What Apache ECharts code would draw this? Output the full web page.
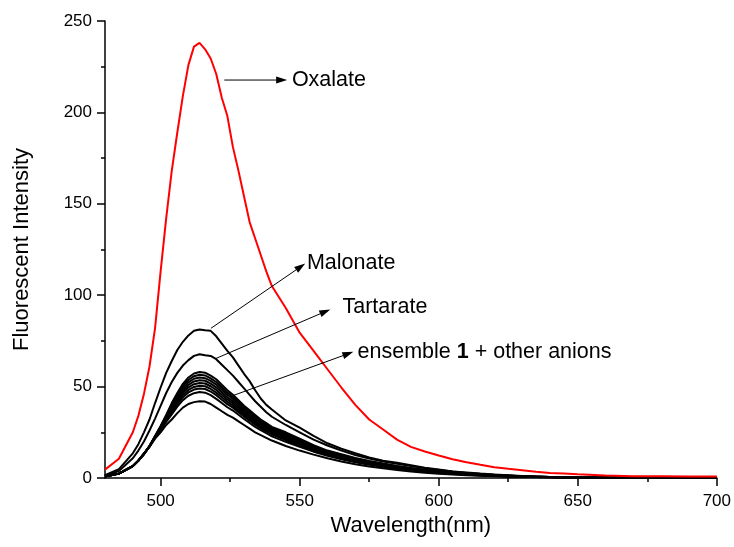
<!DOCTYPE html>
<html>
<head>
<meta charset="utf-8">
<script src="https://cdn.jsdelivr.net/npm/echarts@6/dist/echarts.min.js"></script>
<style>
  html, body { margin: 0; padding: 0; background: #fff; }
  #chart { width: 734px; height: 547px; }
</style>
</head>
<body>
<div id="chart"></div>
<script>
// Emission wavelengths (nm) shared by every spectrum
const wavelength = [480, 485, 490, 492, 494, 496, 498, 500, 502, 504, 506, 508, 510, 512, 514, 516, 518, 520, 522, 524,
  526, 528, 530, 532, 534, 536, 538, 540, 545, 550, 555, 560, 565, 570, 575, 580, 585, 590, 595, 600,
  605, 610, 615, 620, 625, 630, 635, 640, 645, 650, 660, 670, 680, 690, 700];

// Fluorescent intensity, ensemble 1 + oxalate
const oxalate = [4.6, 10.5, 25, 34, 46, 61, 82, 113, 142, 168, 189, 209, 226, 236, 238, 234.5, 229.5, 221, 208, 198,
  181, 168, 154, 140, 131, 122, 113, 105, 93, 79.5, 69.5, 59.5, 49.5, 40, 32, 26.5, 21, 17, 14.5, 12.3,
  10.3, 8.6, 7.2, 5.9, 5, 4.2, 3.4, 2.8, 2.4, 2, 1.4, 1, 0.9, 0.8, 0.8];

// ensemble 1 + malonate
const malonate = [1.5, 4.9, 13.5, 18.5, 25, 32, 41, 49.5, 57.5, 64, 70, 74.5, 78, 80.5, 81.2, 80.8, 80.5, 77.5, 73.5, 69.5,
  66, 61.5, 57, 53, 48, 43.5, 40, 37.5, 31.5, 27.5, 23, 19, 16, 13.5, 11.2, 9.5, 8.3, 7, 5.6, 4.6,
  3.6, 3, 2.4, 1.9, 1.5, 1.1, 0.8, 0.6, 0.5, 0.4, 0.3, 0.2, 0.2, 0.1, 0.1];

// ensemble 1 + tartarate
const tartarate = [1.2, 3.8, 10.8, 15, 20, 26, 32.5, 39.5, 46.5, 52.5, 57.5, 61.5, 64.5, 66.8, 67.7, 67.2, 66.8, 65, 62, 59,
  56, 52.5, 49, 45.5, 42, 39, 36, 33.5, 29, 25, 21, 17.8, 15, 12.6, 10.6, 9, 7.8, 6.6, 5.4, 4.4,
  3.5, 2.8, 2.2, 1.8, 1.4, 1, 0.8, 0.6, 0.5, 0.4, 0.3, 0.2, 0.2, 0.1, 0.1];

// ensemble 1 + the other anions
const otherAnions = [
  [0.8, 2.4, 6.5, 9.5, 13, 17.5, 23, 28.5, 34.5, 41, 46.5, 51.5, 55, 57.2, 58, 57.6, 56, 54, 51, 48,
   45.5, 42.5, 39.5, 37, 34.5, 32, 30, 28, 25, 21.5, 18, 15, 13, 11, 9.3, 7.9, 6.6, 5.5, 4.5, 3.7,
   3, 2.4, 1.9, 1.5, 1.2, 0.9, 0.7, 0.5, 0.4, 0.3, 0.2, 0.2, 0.1, 0.1, 0.1],
  [0.8, 2.4, 6.5, 9.5, 13, 17.5, 22.9, 28.2, 34, 40.2, 45.5, 50.3, 53.6, 55.7, 56.5, 56.1, 54.5, 52.5, 49.6, 46.7,
   44.3, 41.4, 38.5, 36.1, 33.6, 31.2, 29.2, 27.3, 24.3, 20.9, 17.5, 14.6, 12.6, 10.7, 9, 7.7, 6.4, 5.3, 4.4, 3.6,
   2.9, 2.3, 1.8, 1.4, 1.2, 0.9, 0.7, 0.5, 0.4, 0.3, 0.2, 0.2, 0.1, 0.1, 0.1],
  [0.8, 2.4, 6.5, 9.5, 13.1, 17.4, 22.7, 27.8, 33.5, 39.3, 44.4, 49.1, 52.3, 54.3, 55, 54.6, 53.1, 51.1, 48.3, 45.5,
   43.2, 40.3, 37.5, 35.1, 32.7, 30.4, 28.5, 26.6, 23.6, 20.3, 17, 14.2, 12.3, 10.3, 8.7, 7.4, 6.2, 5.1, 4.2, 3.4,
   2.8, 2.2, 1.8, 1.4, 1.1, 0.8, 0.7, 0.5, 0.4, 0.3, 0.2, 0.1, 0.1, 0.1, 0.1],
  [0.8, 2.4, 6.5, 9.5, 13.1, 17.4, 22.6, 27.5, 33, 38.5, 43.4, 47.8, 51, 52.8, 53.5, 53.2, 51.6, 49.6, 46.9, 44.2,
   42, 39.3, 36.5, 34.2, 31.8, 29.6, 27.8, 25.9, 22.9, 19.7, 16.5, 13.8, 11.9, 10, 8.5, 7.2, 6, 5, 4, 3.3,
   2.7, 2.1, 1.7, 1.3, 1.1, 0.8, 0.6, 0.5, 0.4, 0.3, 0.2, 0.1, 0.1, 0.1, 0],
  [0.8, 2.4, 6.5, 9.5, 13.2, 17.3, 22.4, 27.2, 32.4, 37.6, 42.4, 46.6, 49.6, 51.3, 52, 51.7, 50.2, 48.2, 45.6, 43,
   40.8, 38.2, 35.6, 33.3, 30.9, 28.8, 27, 25.2, 22.2, 19.1, 16.1, 13.4, 11.5, 9.7, 8.2, 6.9, 5.8, 4.8, 3.9, 3.2,
   2.6, 2.1, 1.6, 1.3, 1, 0.8, 0.6, 0.5, 0.4, 0.3, 0.2, 0.1, 0.1, 0.1, 0],
  [0.8, 2.4, 6.5, 9.5, 13.2, 17.3, 22.3, 26.9, 31.9, 36.8, 41.3, 45.4, 48.2, 49.8, 50.5, 50.2, 48.7, 46.7, 44.2, 41.7,
   39.6, 37.1, 34.6, 32.3, 30, 28, 26.2, 24.5, 21.5, 18.5, 15.6, 13, 11.1, 9.4, 7.9, 6.7, 5.6, 4.6, 3.7, 3,
   2.5, 2, 1.6, 1.2, 1, 0.8, 0.6, 0.5, 0.3, 0.2, 0.2, 0.1, 0.1, 0.1, 0],
  [0.8, 2.4, 6.5, 9.5, 13.3, 17.2, 22.2, 26.5, 31.4, 35.9, 40.3, 44.2, 46.8, 48.4, 49, 48.7, 47.3, 45.3, 42.8, 40.4,
   38.5, 36, 33.6, 31.4, 29.2, 27.2, 25.5, 23.8, 20.8, 17.8, 15.1, 12.6, 10.8, 9, 7.6, 6.4, 5.4, 4.4, 3.6, 2.9,
   2.4, 1.9, 1.5, 1.2, 0.9, 0.7, 0.6, 0.4, 0.3, 0.2, 0.2, 0.1, 0.1, 0.1, 0],
  [0.8, 2.4, 6.5, 9.5, 13.3, 17.2, 22, 26.1, 30.7, 34.8, 39, 42.6, 45, 46.4, 47, 46.7, 45.3, 43.3, 41, 38.7,
   36.9, 34.6, 32.3, 30.1, 28, 26.2, 24.5, 22.8, 19.8, 17, 14.4, 12.1, 10.3, 8.6, 7.2, 6.1, 5.1, 4.2, 3.4, 2.7,
   2.2, 1.8, 1.4, 1.1, 0.9, 0.7, 0.6, 0.4, 0.3, 0.2, 0.2, 0.1, 0.1, 0.1, 0],
  [0.8, 2.4, 6.5, 9.5, 13.5, 17, 21.5, 25, 29, 32, 35.5, 38.5, 40.5, 41.5, 42, 41.8, 40.5, 38.5, 36.5, 34.5,
   33, 31, 29, 27, 25, 23.5, 22, 20.5, 17.5, 15, 12.8, 10.8, 9, 7.5, 6.3, 5.3, 4.4, 3.6, 2.9, 2.3,
   1.9, 1.5, 1.2, 0.9, 0.7, 0.6, 0.5, 0.4, 0.3, 0.2, 0.2, 0.1, 0.1, 0.1, 0]
];

// Axis tick positions
const xMajorTicks = [500, 550, 600, 650, 700];
const xMinorTicks = [525, 575, 625, 675];
const yTicks = [0, 50, 100, 150, 200, 250];

// Arrow annotations in data space: text, arrow tail, arrow head, text anchor
const notes = [
  { text: 'Oxalate', from: [522.9, 217.7], to: [545.5, 217.7], at: [547.2, 217.7] },
  { text: 'Malonate', from: [518.1, 81.9], to: [552.0, 117.3], at: [552.6, 117.7] },
  { text: 'Tartarate', from: [519.9, 65.4], to: [561.0, 92.2], at: [565.4, 93.6] },
  { text: '{n|ensemble }{b|1}{n| + other anions}', from: [526.4, 45.3], to: [569.3, 69.0], at: [570.8, 69.0] }
];

const FONT = '"Liberation Sans", Arial, Helvetica, sans-serif';
const NOTE_SIZE = 21.5;
const pairs = ys => wavelength.map((x, i) => [x, ys[i]]);

const chart = echarts.init(document.getElementById('chart'), null, { renderer: 'canvas' });

const lineSeries = (name, ys, color) => ({
  name, type: 'line', data: pairs(ys), xAxisIndex: 0, yAxisIndex: 0,
  showSymbol: false, symbol: 'none', smooth: false, clip: true,
  lineStyle: { color, width: 2 }, emphasis: { disabled: true }, silent: true, z: 3
});

const series = [];
otherAnions.forEach((ys, i) => series.push(lineSeries('other ' + (i + 1), ys, '#000000')));
series.push(lineSeries('Tartarate', tartarate, '#000000'));
series.push(lineSeries('Malonate', malonate, '#000000'));
series.push(lineSeries('Oxalate', oxalate, '#ff0000'));

const axisLine = { show: true, onZero: false, lineStyle: { color: '#000', width: 1.5 } };

chart.setOption({
  animation: false,
  backgroundColor: '#ffffff',
  grid: { left: 105, right: 16, top: 21, bottom: 69, containLabel: false },
  xAxis: [
    {
      type: 'value', min: 480, max: 700, position: 'bottom',
      name: 'Wavelength(nm)', nameLocation: 'middle', nameGap: 35,
      nameTextStyle: { fontFamily: FONT, fontSize: 22, color: '#000' },
      axisLine,
      axisTick: { show: true, inside: false, length: 8, customValues: xMajorTicks, lineStyle: { color: '#000', width: 1.5 } },
      axisLabel: { show: true, margin: 15, customValues: xMajorTicks, fontFamily: FONT, fontSize: 17, color: '#000' },
      splitLine: { show: false }
    },
    {
      type: 'value', min: 480, max: 700, position: 'bottom',
      axisLine: { show: false },
      axisTick: { show: true, inside: false, length: 4, customValues: xMinorTicks, lineStyle: { color: '#000', width: 1.5 } },
      axisLabel: { show: false },
      splitLine: { show: false }
    }
  ],
  yAxis: {
    type: 'value', min: 0, max: 250, interval: 50, position: 'left',
    name: 'Fluorescent Intensity', nameLocation: 'middle', nameGap: 72, nameRotate: 90,
    nameTextStyle: { fontFamily: FONT, fontSize: 22, color: '#000' },
    axisLine,
    axisTick: { show: true, inside: false, length: 8, lineStyle: { color: '#000', width: 1.5 } },
    minorTick: { show: true, splitNumber: 2, length: 4, lineStyle: { color: '#000', width: 1.5 } },
    axisLabel: { show: true, margin: 13, fontFamily: FONT, fontSize: 17, color: '#000',
      formatter: v => (yTicks.indexOf(v) >= 0 ? String(v) : '') },
    splitLine: { show: false },
    minorSplitLine: { show: false }
  },
  series
});

// Arrows and captions placed through the grid's own coordinate mapping
const graphics = [];
notes.forEach(n => {
  const p0 = chart.convertToPixel({ gridIndex: 0 }, n.from);
  const p1 = chart.convertToPixel({ gridIndex: 0 }, n.to);
  const pt = chart.convertToPixel({ gridIndex: 0 }, n.at);
  const dx = p1[0] - p0[0], dy = p1[1] - p0[1];
  const len = Math.sqrt(dx * dx + dy * dy);
  const ux = dx / len, uy = dy / len;
  const headLen = 11, headHalf = 3.5;
  const bx = p1[0] - ux * headLen, by = p1[1] - uy * headLen;
  graphics.push({
    type: 'line', silent: true, z: 10,
    shape: { x1: p0[0], y1: p0[1], x2: bx, y2: by },
    style: { stroke: '#000', lineWidth: 1 }
  });
  graphics.push({
    type: 'polygon', silent: true, z: 10,
    shape: { points: [[p1[0], p1[1]], [bx - uy * headHalf, by + ux * headHalf], [bx + uy * headHalf, by - ux * headHalf]] },
    style: { fill: '#000', stroke: null }
  });
  graphics.push({
    type: 'text', silent: true, z: 10, x: pt[0], y: pt[1],
    style: {
      text: n.text, fill: '#000',
      fontFamily: FONT, fontSize: NOTE_SIZE,
      align: 'left', verticalAlign: 'middle',
      rich: {
        n: { fontFamily: FONT, fontSize: NOTE_SIZE, fill: '#000' },
        b: { fontFamily: FONT, fontSize: NOTE_SIZE, fontWeight: 'bold', fill: '#000' }
      }
    }
  });
});
chart.setOption({ graphic: graphics });
</script>
</body>
</html>
